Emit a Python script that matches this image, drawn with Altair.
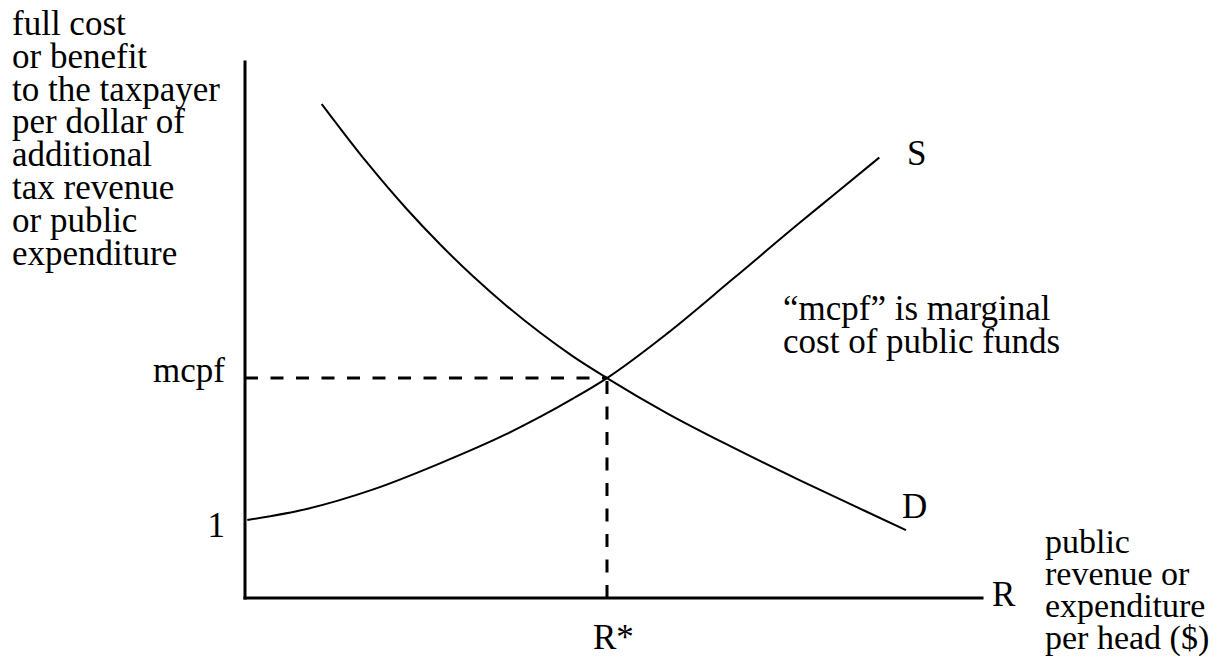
import altair as alt
import pandas as pd

# ---- curve values (x: revenue/expenditure units, y: cost per dollar) ----
s_x = [0.064, 1.704, 3.544, 5.387, 7.229, 8.149, 9.069, 10.0, 11.649, 13.489, 15.331, 16.243, 17.522]
s_y = [1.0, 1.141, 1.392, 1.726, 2.103, 2.321, 2.559, 2.82, 3.386, 4.095, 4.813, 5.160, 5.647]
d_x = [2.119, 3.362, 4.467, 5.387, 6.307, 7.229, 8.149, 9.069, 10.0, 11.649, 13.489, 15.331, 17.174, 18.260]
d_y = [6.333, 5.587, 4.987, 4.535, 4.121, 3.744, 3.403, 3.095, 2.82, 2.371, 1.927, 1.508, 1.106, 0.869]

r_star = 10.0
mcpf = 2.82
x_axis_end = 20.36
y_axis_end = 6.872

# ---- text labels ----
label_text = [
    "full cost\nor benefit\nto the taxpayer\nper dollar of\nadditional\ntax revenue\nor public\nexpenditure",
    "mcpf",
    "1",
    "S",
    "D",
    "R",
    "R*",
    "\u201cmcpf\u201d is marginal\ncost of public funds",
    "public\nrevenue or\nexpenditure\nper head ($)",
]
label_x = [-6.436, -0.552, -0.552, 18.287, 18.149, 20.635, 9.613, 14.862, 22.099]
label_y = [7.218, 2.773, 0.782, 5.551, 1.026, -0.103, -0.654, 3.564, 0.577]
label_align = ["left", "right", "right", "left", "left", "left", "left", "left", "left"]
label_lh = [32.8, 33, 33, 33, 33, 33, 33, 33, 32]
label_fs = [35, 35, 35, 35, 35, 35, 35, 35, 34]

FONT = "Liberation Serif"

xs = alt.Scale(domain=[-6.547, 26.713], nice=False, zero=False)
ys = alt.Scale(domain=[-0.782, 7.564], nice=False, zero=False)

curves = pd.DataFrame(
    {"series": ["S"] * len(s_x) + ["D"] * len(d_x),
     "x": s_x + d_x,
     "y": s_y + d_y,
     "i": list(range(len(s_x))) + list(range(len(d_x)))}
)

curve_layer = alt.Chart(curves).mark_line(
    color="black", strokeWidth=2, interpolate="monotone"
).encode(
    x=alt.X("x:Q", scale=xs, axis=None),
    y=alt.Y("y:Q", scale=ys, axis=None),
    detail="series:N",
    order="i:Q",
)

axes_df = pd.DataFrame({
    "x": [0.0, 0.0], "x2": [0.0, x_axis_end],
    "y": [0.0, 0.0], "y2": [y_axis_end, 0.0],
})
axes_layer = alt.Chart(axes_df).mark_rule(
    color="black", strokeWidth=3, strokeCap="square"
).encode(
    x=alt.X("x:Q", scale=xs, axis=None), x2="x2:Q",
    y=alt.Y("y:Q", scale=ys, axis=None), y2="y2:Q",
)

dash_df = pd.DataFrame({
    "x": [0.0, r_star], "x2": [r_star, r_star],
    "y": [mcpf, 0.0], "y2": [mcpf, mcpf],
})
dash_layer = alt.Chart(dash_df).mark_rule(
    color="black", strokeWidth=3, strokeDash=[13, 12.5]
).encode(
    x=alt.X("x:Q", scale=xs, axis=None), x2="x2:Q",
    y=alt.Y("y:Q", scale=ys, axis=None), y2="y2:Q",
)

text_layers = []
for t, x, y, a, lh, fs in zip(label_text, label_x, label_y, label_align, label_lh, label_fs):
    df = pd.DataFrame({"x": [x], "y": [y], "t": [t]})
    text_layers.append(
        alt.Chart(df).mark_text(
            font=FONT, fontSize=fs, color="black", align=a,
            baseline="alphabetic", lineBreak="\n", lineHeight=lh,
        ).encode(
            x=alt.X("x:Q", scale=xs, axis=None),
            y=alt.Y("y:Q", scale=ys, axis=None),
            text="t:N",
        )
    )

chart = alt.layer(axes_layer, dash_layer, curve_layer, *text_layers).properties(
    width=1204, height=651, autosize="none", padding=0,
).configure_view(stroke=None)

chart.save("out.html", embed_options={"renderer": "svg", "actions": False})
